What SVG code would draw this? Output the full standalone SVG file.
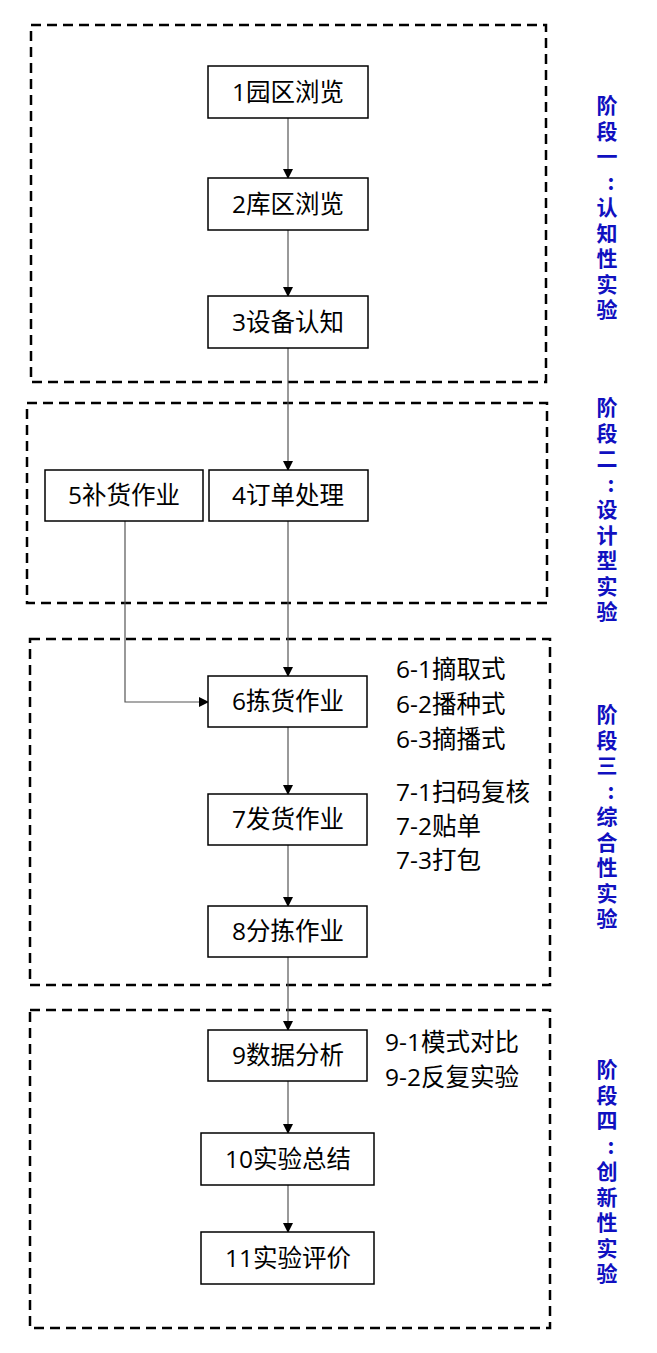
<svg xmlns="http://www.w3.org/2000/svg" width="657" height="1353" viewBox="0 0 657 1353">
<style>
.n rect{fill:#fff;stroke:#000;stroke-width:1.5}
.n text,.note{font-family:"Open Sans","Noto Sans CJK SC",sans-serif;font-size:24.5px;fill:#000}
.n text{text-anchor:middle}
.frame{fill:none;stroke:#000;stroke-width:2.5;stroke-dasharray:10 6}
.side{font-family:"Noto Sans CJK SC",sans-serif;font-size:21px;font-weight:bold;fill:#1010c0;text-anchor:middle}
.c{fill:none;stroke:#555;stroke-width:1.2;marker-end:url(#a)}
</style>
<defs><marker id="a" markerWidth="10" markerHeight="10" refX="9" refY="5" orient="auto" markerUnits="userSpaceOnUse"><path d="M0,0L10,5L0,10z" fill="#000"/></marker></defs>
<rect class="frame" x="31" y="25" width="515" height="357"/>
<rect class="frame" x="27" y="403" width="520" height="200"/>
<rect class="frame" x="30" y="639" width="520" height="346"/>
<rect class="frame" x="30" y="1010" width="520" height="318"/>
<g id="connectors">
<path class="c" d="M288 118V178"/>
<path class="c" d="M288 230V296"/>
<path class="c" d="M288 348V470"/>
<path class="c" d="M288 521V676"/>
<path class="c" d="M125 521V702H208"/>
<path class="c" d="M288 727V794"/>
<path class="c" d="M288 845V906"/>
<path class="c" d="M288 957V1030"/>
<path class="c" d="M288 1081V1133"/>
<path class="c" d="M288 1185V1232"/>
</g>
<g id="n1" class="n"><rect x="208" y="66" width="160" height="52"/><text x="288" y="101">1园区浏览</text></g>
<g id="n2" class="n"><rect x="208" y="178" width="160" height="52"/><text x="288" y="213">2库区浏览</text></g>
<g id="n3" class="n"><rect x="208" y="296" width="160" height="52"/><text x="288" y="331">3设备认知</text></g>
<g id="n5" class="n"><rect x="45" y="470" width="158" height="51"/><text x="124" y="504">5补货作业</text></g>
<g id="n4" class="n"><rect x="209" y="470" width="159" height="51"/><text x="288" y="504">4订单处理</text></g>
<g id="n6" class="n"><rect x="208" y="676" width="159" height="51"/><text x="288" y="710">6拣货作业</text></g>
<g id="n7" class="n"><rect x="208" y="794" width="159" height="51"/><text x="288" y="828">7发货作业</text></g>
<g id="n8" class="n"><rect x="208" y="906" width="159" height="51"/><text x="288" y="940">8分拣作业</text></g>
<g id="n9" class="n"><rect x="208" y="1030" width="159" height="51"/><text x="288" y="1064">9数据分析</text></g>
<g id="n10" class="n"><rect x="201" y="1133" width="173" height="52"/><text x="288" y="1168">10实验总结</text></g>
<g id="n11" class="n"><rect x="201" y="1232" width="173" height="52"/><text x="288" y="1267">11实验评价</text></g>
<g id="notes">
<text class="note" x="396" y="678">6-1摘取式</text>
<text class="note" x="396" y="713">6-2播种式</text>
<text class="note" x="396" y="748">6-3摘播式</text>
<text class="note" x="396" y="801">7-1扫码复核</text>
<text class="note" x="396" y="835">7-2贴单</text>
<text class="note" x="396" y="869">7-3打包</text>
<text class="note" x="385" y="1051">9-1模式对比</text>
<text class="note" x="385" y="1086">9-2反复实验</text>
</g>
<g id="labels" class="side">
<text x="607" y="113"><tspan x="607">阶</tspan><tspan x="607" dy="25.5">段</tspan><tspan x="607" dy="25.5">一</tspan><tspan x="611" dy="25.5">:</tspan><tspan x="607" dy="25.5">认</tspan><tspan x="607" dy="25.5">知</tspan><tspan x="607" dy="25.5">性</tspan><tspan x="607" dy="25.5">实</tspan><tspan x="607" dy="25.5">验</tspan></text>
<text x="607" y="415"><tspan x="607">阶</tspan><tspan x="607" dy="25.5">段</tspan><tspan x="607" dy="25.5">二</tspan><tspan x="611" dy="25.5">:</tspan><tspan x="607" dy="25.5">设</tspan><tspan x="607" dy="25.5">计</tspan><tspan x="607" dy="25.5">型</tspan><tspan x="607" dy="25.5">实</tspan><tspan x="607" dy="25.5">验</tspan></text>
<text x="607" y="722"><tspan x="607">阶</tspan><tspan x="607" dy="25.5">段</tspan><tspan x="607" dy="25.5">三</tspan><tspan x="611" dy="25.5">:</tspan><tspan x="607" dy="25.5">综</tspan><tspan x="607" dy="25.5">合</tspan><tspan x="607" dy="25.5">性</tspan><tspan x="607" dy="25.5">实</tspan><tspan x="607" dy="25.5">验</tspan></text>
<text x="607" y="1077"><tspan x="607">阶</tspan><tspan x="607" dy="25.5">段</tspan><tspan x="607" dy="25.5">四</tspan><tspan x="611" dy="25.5">:</tspan><tspan x="607" dy="25.5">创</tspan><tspan x="607" dy="25.5">新</tspan><tspan x="607" dy="25.5">性</tspan><tspan x="607" dy="25.5">实</tspan><tspan x="607" dy="25.5">验</tspan></text>
</g>
</svg>
